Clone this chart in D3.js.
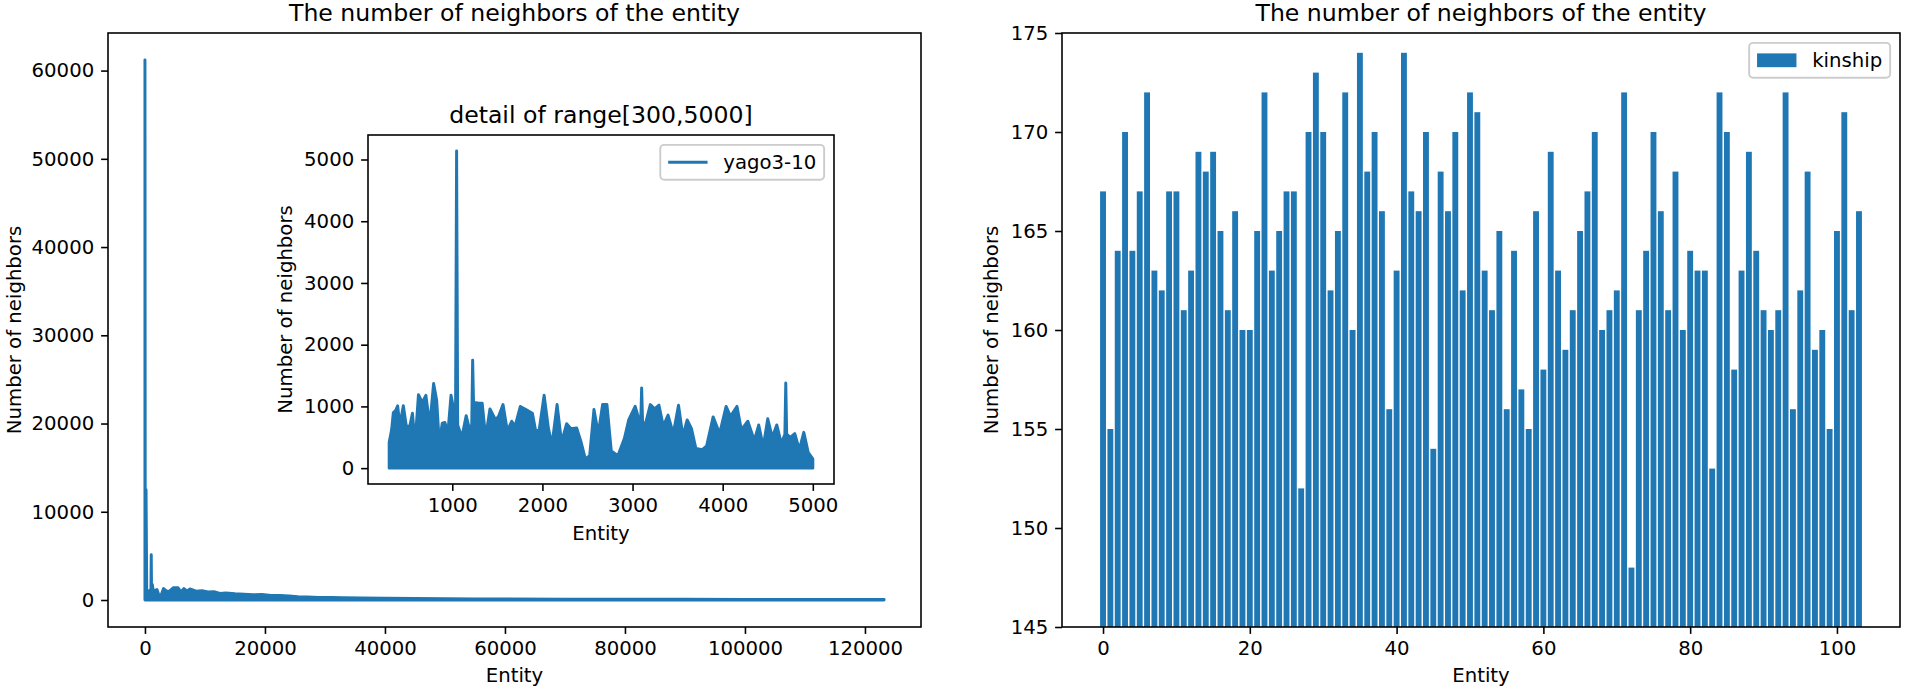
<!DOCTYPE html>
<html>
<head>
<meta charset="utf-8">
<script src="https://cdn.jsdelivr.net/npm/d3@7"></script>
<style>
body { margin: 0; background: #fff; }
svg { display: block; font-family: "DejaVu Sans", sans-serif; }
</style>
</head>
<body>
<svg id="chartArea" width="1905" height="691"></svg>
<script>
// yago3-10: envelope of the neighbour counts
const yagoEntity = [0, 50, 180, 300, 600, 1000, 1050, 1100, 1220, 1400, 2000, 2500, 3100, 3600, 4100, 4700,
    5500, 6000, 6500, 7000, 7500, 8500, 9500, 10500, 11500, 12500, 13500, 15000, 16500, 18000, 19500,
    21000, 22500, 24000, 25500, 27000, 29000, 31000, 33000, 36000, 40000, 45000, 50000, 55000, 60000,
    70000, 80000, 90000, 100000, 110000, 123182];
const yagoNeighbors = [61200, 400, 12500, 500, 1000, 1200, 5140, 600, 1750, 1000, 1180, 200, 1300, 1000, 1000, 1380,
    1400, 900, 1300, 1000, 1250, 1000, 1050, 900, 950, 750, 800, 700, 650, 600, 620,
    500, 520, 450, 380, 350, 300, 280, 250, 220, 200, 170, 150, 130, 120,
    100, 90, 80, 70, 60, 50];

// yago3-10: detail of range [300, 5000] (peaks and the dips between them)
const detailEntity = [300, 327, 346, 370, 394, 418, 457, 490, 529, 558, 587, 625, 654, 673, 707, 750, 793, 827,
    856, 889, 918, 952, 986, 1036, 1048, 1060, 1106, 1154, 1188, 1216, 1226, 1238, 1260, 1298, 1332, 1370, 1418, 1481, 1514,
    1563, 1611, 1659, 1697, 1755, 1827, 1889, 1923, 1962, 2019, 2067, 2106, 2163, 2212, 2269, 2317,
    2380, 2428, 2476, 2524, 2572, 2620, 2668, 2716, 2764, 2837, 2909, 2957, 3029, 3090, 3101, 3112, 3149, 3197,
    3245, 3293, 3341, 3394, 3452, 3510, 3558, 3606, 3654, 3702, 3774, 3822, 3894, 3966, 4038, 4087,
    4159, 4207, 4279, 4351, 4400, 4450, 4500, 4550, 4600, 4650, 4690, 4700, 4710, 4750, 4800, 4850, 4900, 4950, 5000];
const detailNeighbors = [420, 620, 900, 930, 1010, 700, 1010, 680, 680, 890, 400, 1190, 1100, 1080, 1180, 700, 1370, 1100,
    400, 730, 740, 580, 1180, 800, 5140, 700, 500, 850, 650, 700, 1750, 900, 1060, 1050, 1050, 500, 960, 780, 840,
    1030, 600, 760, 680, 1000, 940, 890, 620, 600, 1180, 640, 380, 1030, 420, 720, 640,
    650, 430, 150, 200, 950, 560, 1030, 1030, 280, 200, 480, 780, 1000, 700, 1300, 700, 750, 1030,
    960, 1020, 680, 860, 560, 1020, 520, 780, 640, 320, 300, 360, 830, 560, 1000, 840,
    1000, 620, 760, 450, 700, 350, 800, 500, 700, 400, 550, 1380, 550, 500, 560, 300, 580, 250, 150];

// kinship: neighbours of each of the 104 entities
const kinshipEntity = d3.range(104);
const kinshipNeighbors = [167, 155, 164, 170, 164, 167, 172, 163, 162, 167, 167, 161, 163, 169, 168,
    169, 165, 161, 166, 160, 160, 165, 172, 163, 165, 167, 167, 152, 170, 173, 170, 162, 165, 172, 160, 174, 168,
    170, 166, 156, 163, 174, 167, 166, 170, 154, 168, 166, 170, 162, 172, 171, 163, 161, 165, 156, 164, 157, 155, 166,
    158, 169, 163, 159, 161, 165, 167, 170, 160, 161, 162, 172, 148, 161, 164, 170, 166, 161, 168, 160, 164, 163, 163,
    153, 172, 170, 158, 163, 169, 164, 161, 160, 161, 172, 156, 162, 168, 159, 160, 155, 165, 171, 161, 166];

const mainXTicks = [0, 20000, 40000, 60000, 80000, 100000, 120000];
const mainYTicks = [0, 10000, 20000, 30000, 40000, 50000, 60000];
const detailXTicks = [1000, 2000, 3000, 4000, 5000];
const detailYTicks = [0, 1000, 2000, 3000, 4000, 5000];
const kinXTicks = [0, 20, 40, 60, 80, 100];
const kinYTicks = [145, 150, 155, 160, 165, 170, 175];

const FS = 19.7, TFS = 23.6, LW = 2.95, SW = 1.58, TL = 6.9;
const blue = "#1f77b4";
const svg = d3.select("#chartArea");

function drawAxes(g, x, y, xTicks, yTicks, title, titleY, xLabelY, yLabelX) {
    const [xa, xb] = x.range();
    const [yb, ya] = y.range();

    let ax = g.append("g").attr("transform", `translate(0,${yb})`)
        .call(d3.axisBottom(x).tickValues(xTicks).tickFormat(d3.format("d"))
            .tickSize(TL).tickPadding(TL).tickSizeOuter(0));
    let ay = g.append("g").attr("transform", `translate(${xa},0)`)
        .call(d3.axisLeft(y).tickValues(yTicks).tickFormat(d3.format("d"))
            .tickSize(TL).tickPadding(TL).tickSizeOuter(0));
    [ax, ay].forEach(a => {
        a.select(".domain").remove();
        a.selectAll("line").attr("stroke", "#000").attr("stroke-width", SW);
        a.selectAll("text").attr("fill", "#000").style("font-size", FS + "px")
            .style("font-family", "DejaVu Sans");
    });

    g.append("rect")
        .attr("x", xa).attr("y", ya)
        .attr("width", xb - xa).attr("height", yb - ya)
        .attr("fill", "none").attr("stroke", "#000").attr("stroke-width", SW);

    g.append("text")
        .attr("x", (xa + xb) / 2).attr("y", titleY)
        .attr("text-anchor", "middle")
        .style("font-size", TFS + "px")
        .text(title);

    g.append("text")
        .attr("x", (xa + xb) / 2).attr("y", xLabelY)
        .attr("text-anchor", "middle")
        .style("font-size", FS + "px")
        .text("Entity");

    g.append("text")
        .attr("transform", `translate(${yLabelX},${(ya + yb) / 2}) rotate(-90)`)
        .attr("text-anchor", "middle")
        .style("font-size", FS + "px")
        .text("Number of neighbors");
}

function drawLegend(g, x, y, label, kind) {
    const [, xb] = x.range();
    const [, ya] = y.range();
    const pad = 0.4 * FS, hl = 2 * FS, htp = 0.8 * FS, bap = 0.5 * FS;
    let lg = g.append("g");
    let box = lg.append("rect");
    let txt = lg.append("text").style("font-size", FS + "px").text(label);
    const tw = txt.node().getComputedTextLength();
    const bw = pad + hl + htp + tw + pad;
    const bh = 2 * pad + FS * 0.97;
    const bx = xb - bap - bw, by = ya + bap;
    box.attr("x", bx).attr("y", by).attr("width", bw).attr("height", bh)
        .attr("rx", 4).attr("fill", "#fff").attr("fill-opacity", 0.8)
        .attr("stroke", "#cccccc").attr("stroke-width", 1.9);
    const cy = by + bh / 2;
    txt.attr("x", bx + pad + hl + htp).attr("y", cy + 0.36 * FS);
    if (kind === "line") {
        lg.append("line")
            .attr("x1", bx + pad).attr("x2", bx + pad + hl)
            .attr("y1", cy).attr("y2", cy)
            .attr("stroke", blue).attr("stroke-width", LW);
    } else {
        lg.append("rect")
            .attr("x", bx + pad).attr("y", cy - 0.35 * FS)
            .attr("width", hl).attr("height", 0.7 * FS)
            .attr("fill", blue);
    }
}

// ---- left: full yago3-10 series ----
const yagoMax = d3.max(yagoNeighbors);
const yagoLast = yagoEntity[yagoEntity.length - 1];
let xMain = d3.scaleLinear().domain([-0.05 * yagoLast, 1.05 * yagoLast]).range([108, 921]);
let yMain = d3.scaleLinear().domain([-0.05 * yagoMax, 1.05 * yagoMax]).range([627, 33]);
let gMain = svg.append("g");

let yagoData = yagoEntity.map((e, i) => [e, yagoNeighbors[i]]);
gMain.append("path")
    .datum(yagoData)
    .attr("d", d3.area().x(d => xMain(d[0])).y0(yMain(0)).y1(d => yMain(d[1])))
    .attr("fill", blue).attr("stroke", blue)
    .attr("stroke-width", LW).attr("stroke-linejoin", "round");
drawAxes(gMain, xMain, yMain, mainXTicks, mainYTicks,
    "The number of neighbors of the entity", 21, 682, 21);

// ---- inset: detail of range[300,5000] ----
const detMax = d3.max(detailNeighbors);
const detSpan = 5000 - 300;
let xDet = d3.scaleLinear().domain([300 - 0.05 * detSpan, 5000 + 0.05 * detSpan]).range([368, 834]);
let yDet = d3.scaleLinear().domain([-0.05 * detMax, 1.05 * detMax]).range([484, 135]);
let gDet = svg.append("g");
gDet.append("rect").attr("x", 368).attr("y", 135).attr("width", 466).attr("height", 349).attr("fill", "#fff");

let detData = detailEntity.map((e, i) => [e, detailNeighbors[i]]);
gDet.append("path")
    .datum(detData)
    .attr("d", d3.area().x(d => xDet(d[0])).y0(yDet(0)).y1(d => yDet(d[1])))
    .attr("fill", blue).attr("stroke", blue)
    .attr("stroke-width", LW).attr("stroke-linejoin", "round");
drawAxes(gDet, xDet, yDet, detailXTicks, detailYTicks,
    "detail of range[300,5000]", 123, 540, 292);
drawLegend(gDet, xDet, yDet, "yago3-10", "line");

// ---- right: kinship bars ----
let xKin = d3.scaleLinear().domain([-0.4 - 0.05 * 103.8, 103.4 + 0.05 * 103.8]).range([1062, 1900]);
let yKin = d3.scaleLinear().domain([145, 175]).range([627, 33]);
let gKin = svg.append("g");

gKin.selectAll(".bar")
    .data(kinshipEntity)
    .enter().append("rect")
    .attr("class", "bar")
    .attr("x", d => xKin(d - 0.4))
    .attr("width", xKin(0.8) - xKin(0))
    .attr("y", d => yKin(kinshipNeighbors[d]))
    .attr("height", d => yKin(145) - yKin(kinshipNeighbors[d]))
    .attr("fill", blue);
drawAxes(gKin, xKin, yKin, kinXTicks, kinYTicks,
    "The number of neighbors of the entity", 21, 682, 998);
drawLegend(gKin, xKin, yKin, "kinship", "rect");
</script>
</body>
</html>
